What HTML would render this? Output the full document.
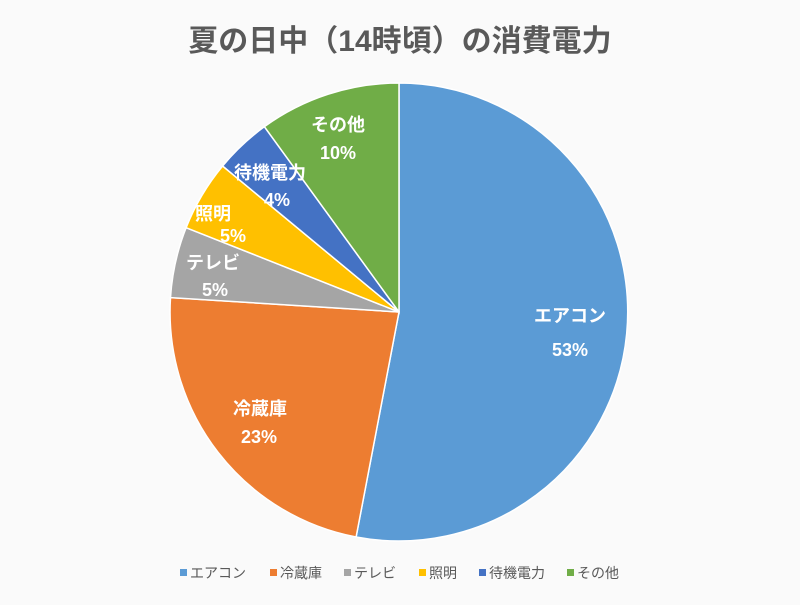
<!DOCTYPE html><html><head><meta charset="utf-8"><style>
body{margin:0;width:800px;height:600px;background:#fafafa;overflow:hidden}
svg text{font-family:"Liberation Sans","Noto Sans CJK JP",sans-serif}
</style></head><body>
<svg width="800" height="600" viewBox="0 0 800 600">
<rect width="800" height="600" fill="#fafafa"/>
<text x="400" y="51" text-anchor="middle" font-size="30" font-weight="bold" fill="#595959">夏の日中（14時頃）の消費電力</text>
<g stroke="#fff" stroke-width="1.5">
<path d="M399,312 L399,83 A229,229 0 1,1 356.1,537 Z" fill="#5b9bd5"/>
<path d="M399,312 L356.1,537 A229,229 0 0,1 170.5,297.6 Z" fill="#ed7d31"/>
<path d="M399,312 L170.5,297.6 A229,229 0 0,1 186.1,227.7 Z" fill="#a5a5a5"/>
<path d="M399,312 L186.1,227.7 A229,229 0 0,1 222.6,166 Z" fill="#ffc000"/>
<path d="M399,312 L222.6,166 A229,229 0 0,1 264.4,126.7 Z" fill="#4472c4"/>
<path d="M399,312 L264.4,126.7 A229,229 0 0,1 399,83 Z" fill="#70ad47"/>
</g>
<g fill="#fff" font-size="18" font-weight="bold" text-anchor="middle">
<text x="570" y="322">エアコン</text><text x="570" y="356">53%</text>
<text x="260" y="415">冷蔵庫</text><text x="259" y="443">23%</text>
<text x="213" y="269">テレビ</text><text x="215" y="296">5%</text>
<text x="213" y="220">照明</text><text x="233" y="242">5%</text>
<text x="270" y="179">待機電力</text><text x="277" y="206">4%</text>
<text x="338" y="131">その他</text><text x="338" y="159">10%</text>
</g>
<g font-size="14" fill="#595959">
<rect x="180" y="569" width="7" height="7" fill="#5b9bd5"/><text x="190" y="578">エアコン</text>
<rect x="270" y="569" width="7" height="7" fill="#ed7d31"/><text x="280" y="578">冷蔵庫</text>
<rect x="344" y="569" width="7" height="7" fill="#a5a5a5"/><text x="354" y="578">テレビ</text>
<rect x="419" y="569" width="7" height="7" fill="#ffc000"/><text x="429" y="578">照明</text>
<rect x="479" y="569" width="7" height="7" fill="#4472c4"/><text x="489" y="578">待機電力</text>
<rect x="567" y="569" width="7" height="7" fill="#70ad47"/><text x="577" y="578">その他</text>
</g>
</svg></body></html>
